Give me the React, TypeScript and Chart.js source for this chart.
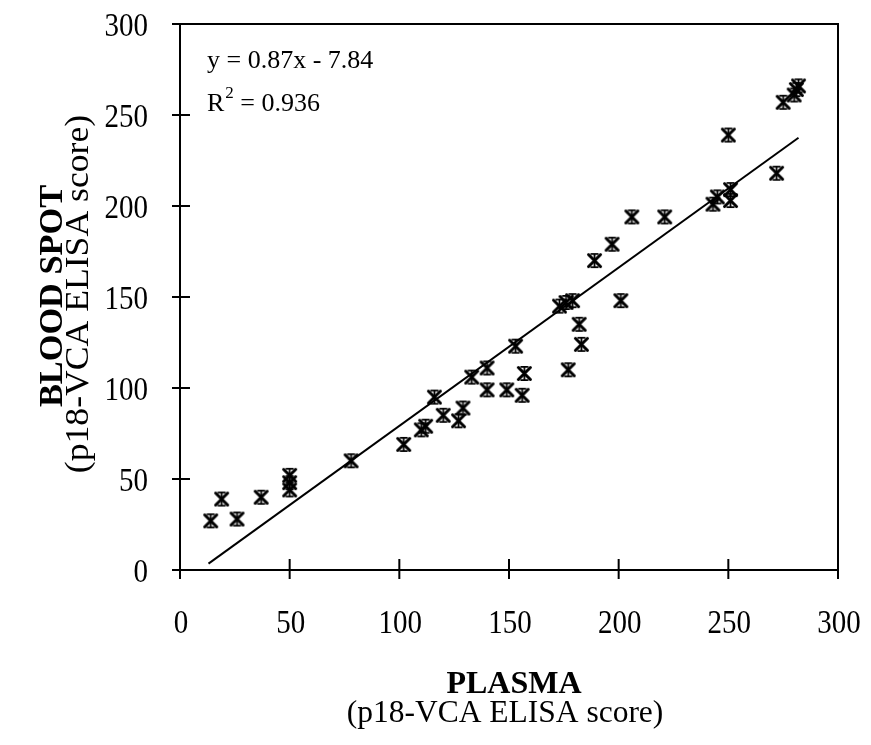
import React, { useEffect, useRef } from 'react';
import { Chart, registerables } from 'chart.js';

Chart.register(...registerables);

// ---- data ----
const plasma = [14, 19, 26, 37, 50, 50, 50, 78, 102, 110, 112, 120, 127, 129, 116, 133, 140, 140, 149, 156, 157, 153, 173, 176, 179, 182, 183, 177, 201, 189, 197, 206, 221, 243, 245, 251, 251, 250, 272, 275, 280, 281, 282];
const bloodSpot = [27, 39, 28, 40, 44, 48, 52, 60, 69, 77, 79, 85, 82, 89, 95, 106, 111, 99, 99, 96, 108, 123, 145, 147, 148, 135, 124, 110, 148, 170, 179, 194, 194, 201, 205, 209, 203, 239, 218, 257, 261, 264, 266];

const fitX = [13, 282];
const fitY = [3.5, 237.5];

const xTicks = [0, 50, 100, 150, 200, 250, 300];
const yTicks = [0, 50, 100, 150, 200, 250, 300];

const equationText = 'y = 0.87x - 7.84';
const r2Label = 'R';
const r2Sup = '2';
const r2Value = ' = 0.936';

const xTitle = 'PLASMA';
const xSubtitle = '(p18-VCA ELISA score)';
const yTitle = 'BLOOD SPOT';
const ySubtitle = '(p18-VCA ELISA score)';

const FONT = "'Liberation Serif', 'Times New Roman', serif";

function makeStar(): HTMLCanvasElement {
  const c = document.createElement('canvas');
  c.width = 17;
  c.height = 17;
  const g = c.getContext('2d')!;
  g.strokeStyle = '#000';
  g.lineCap = 'round';
  g.lineWidth = 3;
  g.beginPath();
  g.moveTo(2.5, 2.5); g.lineTo(14.5, 14.5);
  g.moveTo(14.5, 2.5); g.lineTo(2.5, 14.5);
  g.stroke();
  g.lineCap = 'butt';
  g.lineWidth = 1.8;
  g.beginPath();
  g.moveTo(8.5, 1.5); g.lineTo(8.5, 15.5);
  g.moveTo(4.5, 1.8); g.lineTo(12.5, 1.8);
  g.moveTo(4.5, 15.2); g.lineTo(12.5, 15.2);
  g.stroke();
  return c;
}

function text(ctx: CanvasRenderingContext2D, s: string, x: number, y: number, font: string, align: CanvasTextAlign, stretch: number) {
  ctx.save();
  ctx.translate(x, y);
  ctx.scale(1, stretch);
  ctx.font = font;
  ctx.textAlign = align;
  ctx.textBaseline = 'alphabetic';
  ctx.fillText(s, 0, 0);
  ctx.restore();
}

const decorPlugin = {
  id: 'decor',
  afterDraw(chart: any) {
    const { ctx, chartArea: ca, scales } = chart;
    const xs = scales.x;
    const ys = scales.y;
    ctx.save();
    ctx.strokeStyle = '#000';
    ctx.lineWidth = 2;
    ctx.strokeRect(ca.left, ca.top, ca.right - ca.left, ca.bottom - ca.top);
    ctx.beginPath();
    xTicks.forEach((v) => {
      const px = xs.getPixelForValue(v);
      ctx.moveTo(px, ca.bottom - 11);
      ctx.lineTo(px, ca.bottom + 9);
    });
    yTicks.forEach((v) => {
      const py = ys.getPixelForValue(v);
      ctx.moveTo(ca.left - 8, py);
      ctx.lineTo(ca.left + 10, py);
    });
    ctx.stroke();

    ctx.fillStyle = '#000';
    // tick labels
    const tickFont = `29px ${FONT}`;
    xTicks.forEach((v) => {
      const px = xs.getPixelForValue(v);
      text(ctx, String(v), px + 1, 633, tickFont, 'center', 1.15);
    });
    yTicks.forEach((v) => {
      const py = ys.getPixelForValue(v);
      text(ctx, String(v), 148, py + 11.5, tickFont, 'right', 1.15);
    });

    // equation annotation
    ctx.textAlign = 'left';
    ctx.textBaseline = 'alphabetic';
    ctx.font = `26px ${FONT}`;
    ctx.fillText(equationText, 207, 68);
    ctx.fillText(r2Label, 207, 111);
    const rw = ctx.measureText(r2Label).width;
    ctx.font = `17px ${FONT}`;
    ctx.fillText(r2Sup, 207 + rw + 1, 98);
    const sw = ctx.measureText(r2Sup).width;
    ctx.font = `26px ${FONT}`;
    ctx.fillText(r2Value, 207 + rw + sw + 1, 111);

    // x axis titles
    text(ctx, xTitle, 514, 693, `bold 32px ${FONT}`, 'center', 1);
    text(ctx, xSubtitle, 505, 722, `31.5px ${FONT}`, 'center', 1);

    // y axis titles (rotated)
    ctx.save();
    ctx.translate(62, 296);
    ctx.rotate(-Math.PI / 2);
    ctx.scale(1.04, 1);
    ctx.font = `bold 33px ${FONT}`;
    ctx.textAlign = 'center';
    ctx.fillText(yTitle, 0, 0);
    ctx.restore();
    ctx.save();
    ctx.translate(88, 294);
    ctx.rotate(-Math.PI / 2);
    ctx.scale(1.08, 1);
    ctx.font = `33px ${FONT}`;
    ctx.textAlign = 'center';
    ctx.fillText(ySubtitle, 0, 0);
    ctx.restore();

    ctx.restore();
  },
};

export default function App() {
  const ref = useRef<HTMLCanvasElement | null>(null);

  useEffect(() => {
    if (!ref.current) return;
    const star = makeStar();
    const points = plasma.map((x, i) => ({ x, y: bloodSpot[i] }));
    const fit = fitX.map((x, i) => ({ x, y: fitY[i] }));
    const chart = new Chart(ref.current, {
      type: 'scatter',
      data: {
        datasets: [
          {
            label: 'fit',
            data: fit,
            showLine: true,
            borderColor: '#000',
            borderWidth: 2,
            pointRadius: 0,
            fill: false,
          },
          {
            label: 'samples',
            data: points,
            pointStyle: star as any,
            pointRadius: 8,
            borderColor: '#000',
            backgroundColor: '#000',
          },
        ],
      },
      options: {
        animation: false,
        responsive: false,
        devicePixelRatio: 1,
        layout: { padding: { left: 0, top: 24, right: 33, bottom: 0 } },
        plugins: {
          legend: { display: false },
          tooltip: { enabled: false },
        },
        scales: {
          x: {
            type: 'linear',
            min: 0,
            max: 300,
            grid: { display: false },
            border: { display: false },
            ticks: { stepSize: 50, display: false },
            afterFit: (s: any) => { s.height = 175; },
          },
          y: {
            type: 'linear',
            min: 0,
            max: 300,
            grid: { display: false },
            border: { display: false },
            ticks: { stepSize: 50, display: false },
            afterFit: (s: any) => { s.width = 180; },
          },
        },
      },
      plugins: [decorPlugin],
    });
    return () => chart.destroy();
  }, []);

  return (
    <div style={{ position: 'absolute', left: 0, top: 0, width: 871, height: 745, background: '#fff' }}>
      <canvas ref={ref} width={871} height={745} />
    </div>
  );
}
